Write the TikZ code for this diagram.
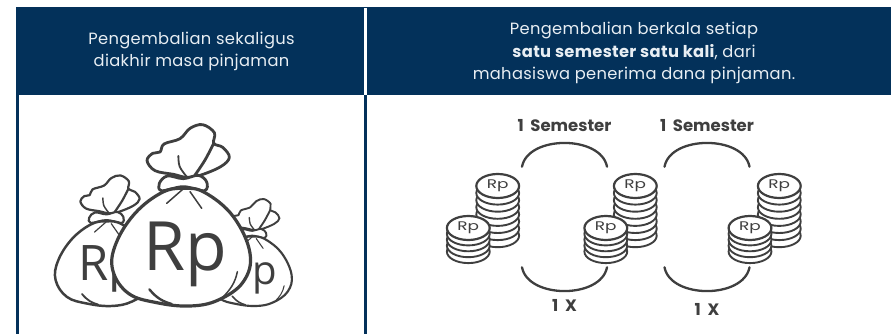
\documentclass[tikz,border=0pt]{standalone}
\usepackage{fontspec}
\setmainfont{Poppins}
\newfontfamily\headfont[LetterSpace=2]{Poppins}
\newfontfamily\inkfont[WordSpace=1.9]{Poppins}
\newfontfamily\bagfont{Open Sans}
\definecolor{navy}{HTML}{03315A}
\definecolor{ink}{HTML}{3F3F3F}
\definecolor{headtext}{HTML}{E8EEF3}
\tikzset{
  headlabel/.style={text=headtext,align=center,font=\headfont\fontsize{16.3}{22.7}\selectfont,inner sep=0pt},
  inklabel/.style={text=ink,inner sep=0pt,font=\inkfont\fontsize{16.5}{18}\selectfont\bfseries},
  bagline/.style={draw=ink,line width=1.5pt,line join=round,line cap=round},
  bagfill/.style={bagline,fill=white},
  coinline/.style={draw=ink,fill=white,line width=1.9pt},
  arcline/.style={draw=ink,line width=2.3pt,line cap=round},
}
% #1 name, #2 x, #3 y of bag base, #4 scale, #5 text x in local units, #6 text
\newcommand\moneybag[6]{%
\begin{scope}[shift={(#2,#3)},scale=#4/3,shift={(-455,-558)}]
  \path[bagfill,line width=#4*2.2pt+0.6pt] plot[smooth cycle,tension=0.6] coordinates {
    (430,163)(375,152)(351,122)(368,100)(390,96)(402,72)(450,56)(480,25)(518,14)(553,38)(551,70)
    (578,82)(598,112)(572,140)(510,166)(470,172)};
  \path[bagline,line width=#4*2.2pt+0.6pt] plot[smooth,tension=0.6] coordinates {(551,70)(525,120)(495,165)};
  \path[bagline,line width=#4*1.2pt+0.6pt] plot[smooth,tension=0.6] coordinates {(445,108)(449,140)(470,170)};
  \path[bagfill,line width=#4*2.2pt+0.6pt] plot[smooth cycle,tension=0.6] coordinates {
    (395,212)(388,190)(412,168)(460,176)(505,166)(530,186)(523,212)(460,200)};
  \path[bagfill,line width=#4*2.6pt+0.6pt] plot[smooth cycle,tension=0.65] coordinates {
    (460,205)(525,218)(610,290)(660,400)(640,485)(565,540)(480,558)(380,548)(295,520)(248,450)(258,370)(315,280)(395,218)};
  \path[bagline,line width=#4*1.1pt+0.4pt] (458,208) -- (410,250);
  \path[bagline,line width=#4*1.1pt+0.4pt] (480,215) -- (515,265);
  \path[bagline,line width=#4*2pt+0.4pt] (358,508) .. controls (380,535) and (400,545) .. (425,552);
  \path[bagline,line width=#4*1.1pt+0.4pt] (622,455) .. controls (615,490) and (600,510) .. (575,535);
  \node[anchor=base,inner sep=0pt,text=ink,font=\bagfont\fontsize{\fpeval{#4*68}}{\fpeval{#4*70}}\selectfont] (#1) at (#5,450) {#6};
\end{scope}}
% #1 name, #2 cx, #3 cy of top, #4 coin count, #5 step
\newcommand\coinstack[5]{%
  \foreach \i in {#4,...,1}{
    \path[coinline] (#2,#3+\i*#5) ellipse [x radius=21.4,y radius=11.5];
  }
  \path[coinline,line width=2.2pt] (#2,#3) ellipse [x radius=21.4,y radius=12];
  \node[inner sep=0pt,text=ink,xscale=1.35,font=\fontsize{12.5}{13}\selectfont] (#1) at (#2,#3) {Rp};
}
\begin{document}
\begin{tikzpicture}[x=1pt,y=-1pt]
\useasboundingbox (0,0) rectangle (891,334);
\fill[white] (0,0) rectangle (891,334);
\fill[navy] (16,7) rectangle (891,95);
\fill[navy] (16,95) rectangle (19,334);
\fill[navy] (364.2,95) rectangle (366.8,334);
\fill[white] (364.2,8) rectangle (366.8,95);
\node[headlabel] (headleft) at (191.5,51.5) {Pengembalian sekaligus\\diakhir masa pinjaman};
\node[headlabel] (headright) at (634,53) {Pengembalian berkala setiap\\{\bfseries satu semester satu kali}, dari\\mahasiswa penerima dana pinjaman.};
\moneybag{bagleft}{105.3}{306}{0.72}{467}{Rp}
\moneybag{bagright}{251.3}{306}{0.59}{522}{p}
\moneybag{bagbig}{181.7}{306}{1}{467}{Rp}
\coinstack{ca}{497.7}{186}{7}{7.1}
\coinstack{cb}{468.3}{228}{4}{5.9}
\coinstack{cc}{635.3}{186}{7}{7.1}
\coinstack{cd}{605.8}{228}{4}{5.9}
\coinstack{ce}{779.3}{186}{7}{7.1}
\coinstack{cf}{750}{228}{4}{5.9}
\foreach \xa/\n/\yb in {522/a/305,664.5/b/309}{
  \coordinate (tl\n) at (\xa,166.7);
  \coordinate (tr\n) at (\xa+85,166.7);
  \coordinate (bl\n) at (\xa,267.3);
  \coordinate (br\n) at (\xa+85,267.3);
  \draw[arcline] (tl\n) .. controls (\xa+6,135) and (\xa+79,135) .. (tr\n);
  \draw[arcline] (bl\n) .. controls (\xa+6,299) and (\xa+79,299) .. (br\n);
  \node[inklabel] (sem\n) at (\xa+42.5,126) {1 Semester};
  \node[inklabel] (x\n) at (\xa+42.5,\yb) {1 X};
}
\end{tikzpicture}
\end{document}
